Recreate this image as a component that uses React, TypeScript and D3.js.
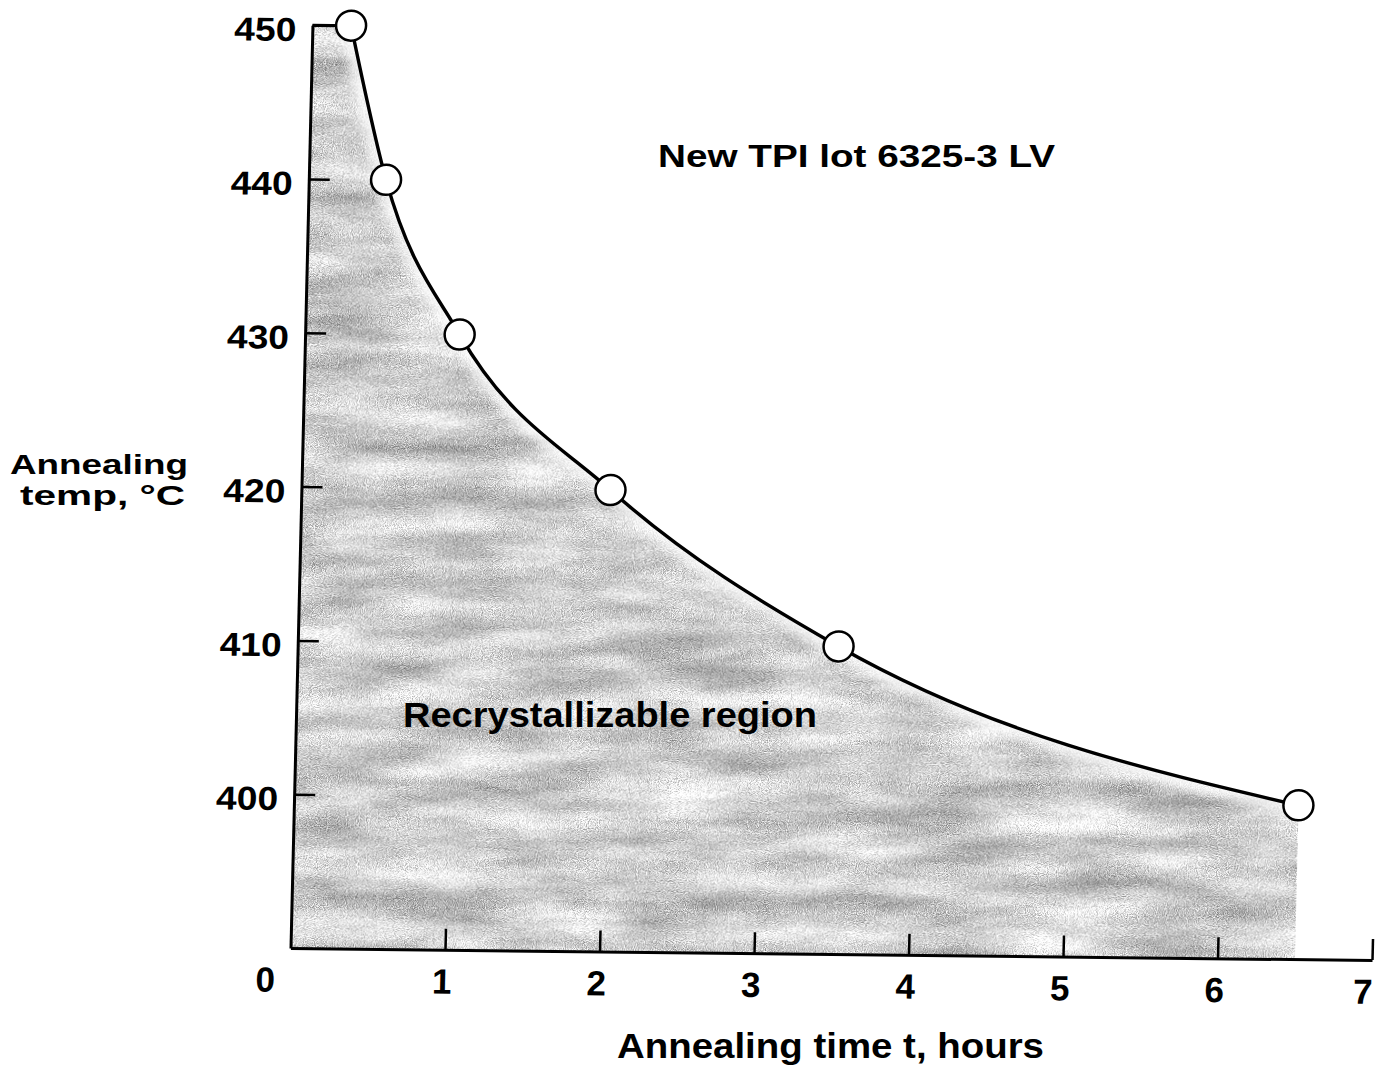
import React, { useEffect, useRef } from 'react';
import * as d3 from 'd3';

// Data
const hours = [0.25, 0.5, 1, 2, 3.5, 6.5];
const temps = [450, 440, 430, 420, 410, 400];
const xTickValues = [0, 1, 2, 3, 4, 5, 6, 7];
const yTickValues = [400, 410, 420, 430, 440, 450];
const titleText = 'New TPI lot 6325-3 LV';
const regionText = 'Recrystallizable region';
const xLabelText = 'Annealing time t, hours';
const yLabelLines = ['Annealing', 'temp, °C'];

const W = 1377;
const H = 1071;
const FONT = '"Liberation Sans", Arial, Helvetica, sans-serif';

// slight scan skew of the original figure
const SKEW_X = -0.0238;
const SKEW_Y = 0.0111;

export default function App() {
  const xAxisRef = useRef<SVGGElement>(null);
  const yAxisRef = useRef<SVGGElement>(null);

  const x = d3.scaleLinear().domain([0, 7]).range([290.5, 1372]);
  const y = d3.scaleLinear().domain([390, 450]).range([948, 25.2]);

  const pts: [number, number][] = hours.map((h, i) => [h, temps[i]]);
  const line = d3
    .line<[number, number]>()
    .x((d) => x(d[0]))
    .y((d) => y(d[1]))
    .curve(d3.curveMonotoneX);
  const curvePath = line(pts) || '';
  const last = hours[hours.length - 1];
  const areaPath =
    curvePath +
    `L${x(last)},${y(390)}L${x(0)},${y(390)}L${x(0)},${y(450)}Z`;

  const shear = `matrix(1,${SKEW_Y},${SKEW_X},1,${-SKEW_X * 948},${-SKEW_Y * 290.5})`;

  useEffect(() => {
    const gx = d3.select(xAxisRef.current!);
    gx.selectAll('*').remove();
    gx.call(
      d3
        .axisBottom(x)
        .tickValues(xTickValues)
        .tickSizeInner(-21)
        .tickSizeOuter(0)
        .tickPadding(19)
        .tickFormat(d3.format('d'))
    );
    gx.select('.domain').attr('stroke', '#000').attr('stroke-width', 3);
    gx.selectAll('.tick line').attr('stroke', '#000').attr('stroke-width', 2.5);
    gx.selectAll<SVGTextElement, number>('.tick text')
      .attr('fill', '#000')
      .attr('font-family', FONT)
      .attr('font-weight', 'bold')
      .attr('font-size', 35)
      .attr('x', (d) => (d === 0 ? -25 : d === 7 ? -9 : -3));
    gx.selectAll<SVGGElement, number>('.tick')
      .filter((d) => d === 0)
      .select('line')
      .remove();

    const gy = d3.select(yAxisRef.current!);
    gy.selectAll('*').remove();
    gy.call(
      d3
        .axisLeft(y)
        .tickValues(yTickValues)
        .tickSizeInner(-21)
        .tickSizeOuter(0)
        .tickPadding(16)
        .tickFormat(d3.format('d'))
    );
    gy.select('.domain').attr('stroke', '#000').attr('stroke-width', 3);
    gy.selectAll('.tick line').attr('stroke', '#000').attr('stroke-width', 2.5);
    gy.selectAll('.tick text')
      .attr('fill', '#000')
      .attr('font-family', FONT)
      .attr('font-weight', 'bold')
      .attr('font-size', 33)
      .attr('dy', '0.47em')
      .attr('textLength', 62)
      .attr('lengthAdjust', 'spacingAndGlyphs');
  });

  return (
    <svg
      width={W}
      height={H}
      viewBox={`0 0 ${W} ${H}`}
      style={{ position: 'absolute', left: 0, top: 0, background: '#fff' }}
    >
      <defs>
        <filter
          id="scan"
          x="0"
          y="0"
          width="1"
          height="1"
          colorInterpolationFilters="sRGB"
        >
          <feTurbulence type="fractalNoise" baseFrequency="0.008 0.035" numOctaves={3} seed={5} result="coarseRaw" />
          <feColorMatrix in="coarseRaw" type="matrix" values="1 0 0 0 0  0 1 0 0 0  0 0 1 0 0  0 0 0 0 1" result="coarse" />
          <feTurbulence type="fractalNoise" baseFrequency="1.1" numOctaves={1} seed={2} result="fineRaw" />
          <feColorMatrix in="fineRaw" type="matrix" values="1 0 0 0 0  0 1 0 0 0  0 0 1 0 0  0 0 0 0 1" result="fine" />
          <feComposite in="coarse" in2="fine" operator="arithmetic" k1={0} k2={0.35} k3={0.65} k4={0} result="mix" />
          <feColorMatrix in="mix" type="matrix" values="0 0 0 0 0  0 0 0 0 0  0 0 0 0 0  1.5 0 0 0 -0.56" result="alpha" />
          <feComposite in="alpha" in2="SourceGraphic" operator="in" />
        </filter>
        <filter id="soft" x="-5%" y="-5%" width="110%" height="110%">
          <feGaussianBlur stdDeviation="5" />
        </filter>
      </defs>
      <rect width={W} height={H} fill="#fff" />
      <g transform={shear}>
        <path d={areaPath} fill="#000" filter="url(#scan)" />
        <path
          d={curvePath}
          fill="none"
          stroke="#fff"
          strokeWidth={22}
          strokeOpacity={0.75}
          filter="url(#soft)"
        />
        <g ref={xAxisRef} transform={`translate(0,${y(390)})`} />
        <g ref={yAxisRef} transform={`translate(${x(0)},0)`} />
        <line
          x1={x(0)}
          y1={y(450)}
          x2={x(hours[0])}
          y2={y(temps[0])}
          stroke="#000"
          strokeWidth={3}
        />
        <path d={curvePath} fill="none" stroke="#000" strokeWidth={3.4} />
        {pts.map((p, i) => (
          <circle
            key={i}
            cx={x(p[0])}
            cy={y(p[1])}
            r={15}
            fill="#fff"
            stroke="#000"
            strokeWidth={2.5}
          />
        ))}
      </g>
      <g fontFamily={FONT} fontWeight="bold" fill="#000">
        <text x={658} y={167} fontSize={32} textLength={397} lengthAdjust="spacingAndGlyphs">
          {titleText}
        </text>
        <text x={403} y={727} fontSize={35} textLength={414} lengthAdjust="spacingAndGlyphs">
          {regionText}
        </text>
        <text x={617} y={1058} fontSize={35} textLength={427} lengthAdjust="spacingAndGlyphs">
          {xLabelText}
        </text>
        <text x={10} y={474} fontSize={27} textLength={178} lengthAdjust="spacingAndGlyphs">
          {yLabelLines[0]}
        </text>
        <text x={20} y={505} fontSize={27} textLength={165} lengthAdjust="spacingAndGlyphs">
          {yLabelLines[1]}
        </text>
      </g>
    </svg>
  );
}
